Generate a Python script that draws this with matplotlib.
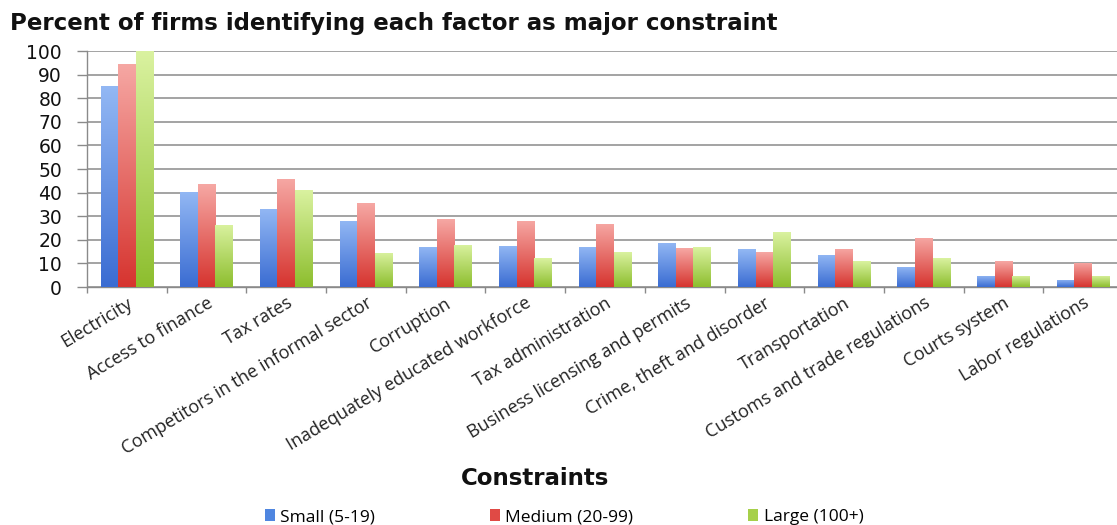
import numpy as np
import matplotlib
matplotlib.use("Agg")
import matplotlib.pyplot as plt
from matplotlib.colors import LinearSegmentedColormap
from matplotlib.patches import Patch

plt.rcParams['font.family'] = ['Open Sans', 'DejaVu Sans']

categories = [
    "Electricity", "Access to finance", "Tax rates",
    "Competitors in the informal sector", "Corruption",
    "Inadequately educated workforce", "Tax administration",
    "Business licensing and permits", "Crime, theft and disorder",
    "Transportation", "Customs and trade regulations",
    "Courts system", "Labor regulations",
]
small = [85, 40.4, 33.1, 28, 17.1, 17.5, 17.1, 18.8, 16.1, 13.6, 8.6, 4.7, 3]
medium = [94.6, 43.6, 45.8, 35.4, 28.7, 28, 26.7, 16.5, 14.8, 16.3, 20.9, 11, 10.2]
large = [100, 26.3, 40.9, 14.6, 17.8, 12.2, 14.7, 16.8, 23.2, 11, 12.2, 4.7, 4.7]
series_names = ["Small (5-19)", "Medium (20-99)", "Large (100+)"]
yticks = [0, 10, 20, 30, 40, 50, 60, 70, 80, 90, 100]

# (legend colour, top of gradient, bottom of gradient)
palette = [
    ("#4F86E0", "#93B8F4", "#3A6CD2"),
    ("#E04A45", "#F6A8A4", "#D6342F"),
    ("#A6D04A", "#DAF2A0", "#8DBE2E"),
]
wide = ['DejaVu Sans']

fig = plt.figure(figsize=(11.17, 5.25), dpi=100)
ax = fig.add_axes([0.0779, 0.4533, 0.9275, 0.4495])

x = np.arange(len(categories))
w = 0.22
grad = np.linspace(0, 1, 256).reshape(-1, 1)

for i, (vals, (c, ctop, cbot)) in enumerate(zip([small, medium, large], palette)):
    bars = ax.bar(x + (i - 1) * w, vals, width=w, color=c, linewidth=0, zorder=2)
    cmap = LinearSegmentedColormap.from_list(f"g{i}", [cbot, ctop])
    for b in bars:
        x0, y0 = b.get_x(), b.get_y()
        im = ax.imshow(grad, cmap=cmap, aspect="auto", origin="lower",
                       extent=[x0, x0 + b.get_width(), y0, y0 + b.get_height()],
                       zorder=3, interpolation="bilinear")
        im.set_clip_path(b)

ax.set_xlim(-0.5, len(categories) - 0.5)
ax.set_ylim(0, 100)
ax.set_yticks(yticks)
ax.set_yticklabels([str(t) for t in yticks], fontsize=13.5, color="#111111",
                   family=wide)
ax.yaxis.grid(True, color="#8a8a8a", linewidth=1.1, zorder=0)
ax.set_axisbelow(True)
ax.tick_params(axis="y", length=7, width=1, color="#8a8a8a", pad=11)

# category boundary ticks on the x axis, labels centred under each group
ax.set_xticks(np.arange(len(categories) + 1) - 0.5)
ax.set_xticklabels([])
ax.tick_params(axis="x", length=4, width=1, color="#8a8a8a")
ax.set_xticks(x, minor=True)
ax.set_xticklabels(categories, minor=True, rotation=31, ha="right",
                   rotation_mode="anchor", fontsize=13, color="#222222")
ax.tick_params(axis="x", which="minor", length=0, pad=5)

for s in ["top", "right"]:
    ax.spines[s].set_visible(False)
for s in ["left", "bottom"]:
    ax.spines[s].set_color("#8a8a8a")
    ax.spines[s].set_linewidth(1)

fig.text(0.009, 0.955, "Percent of firms identifying each factor as major constraint",
         fontsize=16.5, fontweight="bold", color="#111111", va="center", ha="left",
         family=wide)
fig.text(0.479, 0.088, "Constraints", fontsize=16.5, fontweight="bold",
         color="#111111", ha="center", va="center", family=wide)

handles = [Patch(facecolor=p[0], edgecolor="none") for p in palette]
fig.legend(handles, series_names, loc="center", bbox_to_anchor=(0.505, 0.015),
           ncol=3, frameon=False, prop={"size": 12.5}, handlelength=0.6,
           handleheight=0.6, handletextpad=0.3, columnspacing=6.6)

fig.savefig("out.png", dpi=100)
